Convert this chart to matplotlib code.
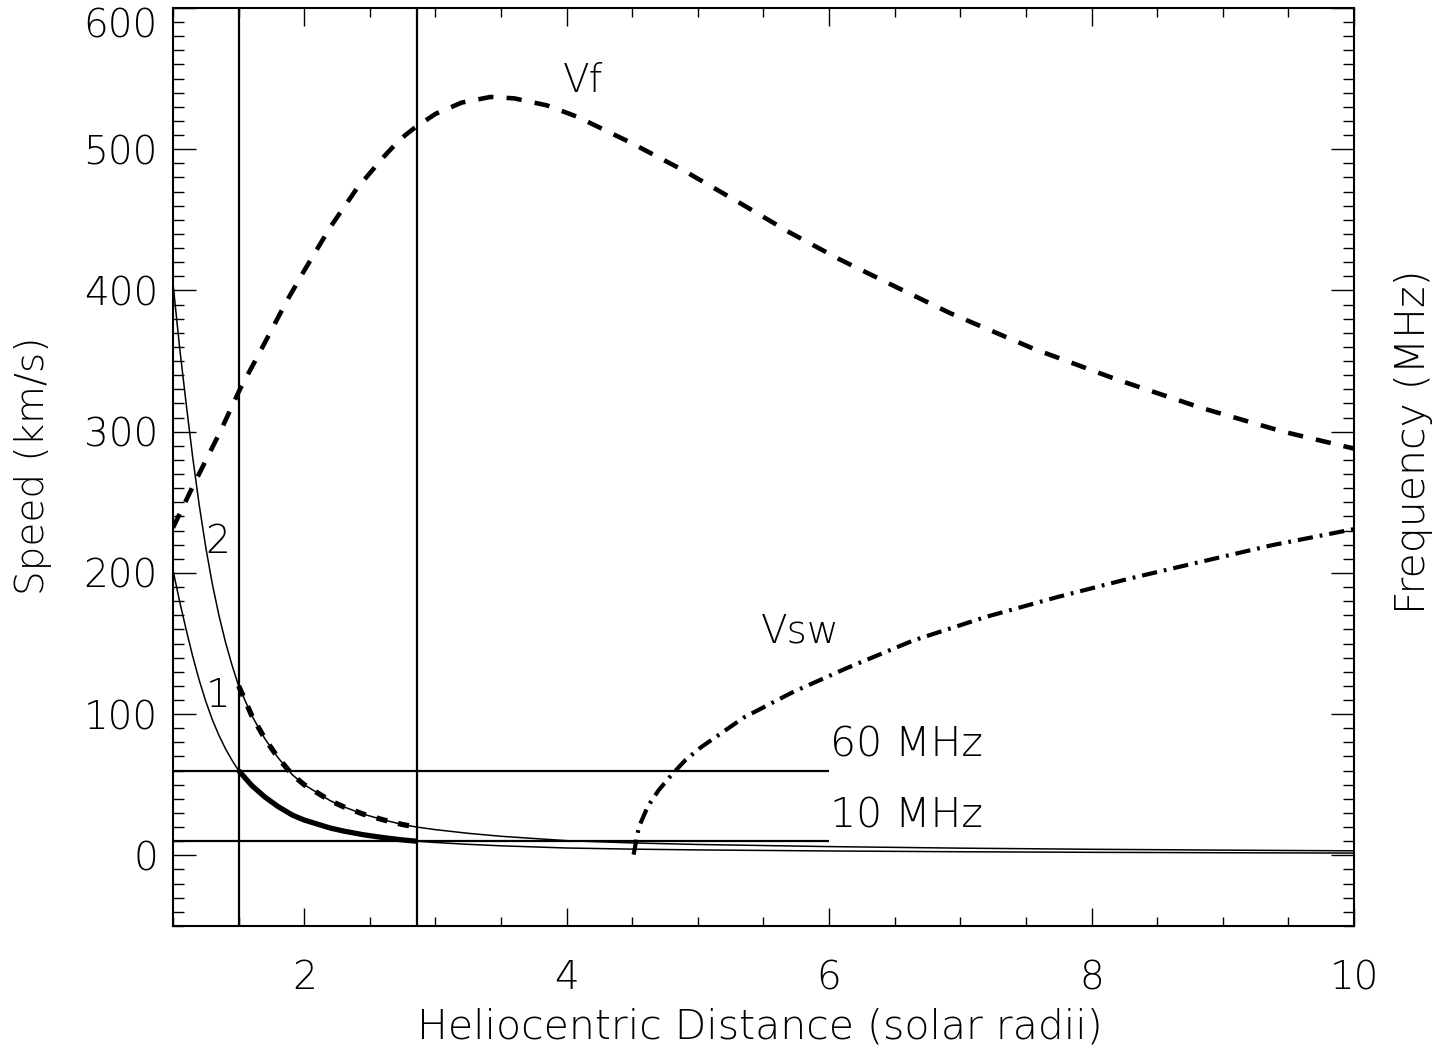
import matplotlib
matplotlib.use('Agg')
import matplotlib.pyplot as plt
import numpy as np
from matplotlib.ticker import MultipleLocator

plt.rcParams['font.family'] = ['DejaVu Sans']
plt.rcParams['font.weight'] = 'light'
plt.rcParams['lines.scale_dashes'] = False

# ---------------- data ----------------
# plasma frequency curves (fundamental "1" and harmonic "2"), MHz
r_f = np.array([1.0, 1.05, 1.1, 1.15, 1.2, 1.25, 1.3, 1.35, 1.4, 1.45, 1.5, 1.6, 1.7, 1.8,
                1.91, 2.0, 2.2, 2.3, 2.45, 2.6, 2.75, 2.86, 3.0, 3.25, 3.5, 4.0, 4.5, 5.0,
                6.0, 7.0, 8.0, 9.0, 10.0])
f1 = np.array([202, 180, 160, 141, 124, 109, 96, 85, 75.5, 67.3, 60, 49.5, 41.3, 34.6,
               28.5, 25.0, 19.3, 17.2, 14.6, 12.6, 10.9, 10.0, 9.1, 7.8, 6.75, 5.2, 4.4, 3.85,
               3.1, 2.55, 2.15, 1.85, 1.6])
f2 = np.array([405, 360, 320, 282, 248, 218, 192, 170, 151, 134.6, 120, 99, 82.6, 69.2,
               57, 50, 38.6, 34.4, 29.2, 25.2, 21.8, 20.0, 18.2, 15.6, 13.5, 10.4, 8.8, 7.7,
               6.2, 5.1, 4.3, 3.7, 3.2])

# fast-mode speed Vf, km/s
r_vf = np.array([1.0, 1.15, 1.36, 1.51, 1.66, 1.87, 2.0, 2.2, 2.4, 2.6, 2.73, 2.84, 3.0, 3.2,
                 3.42, 3.6, 3.85, 4.08, 4.48, 4.89, 5.30, 5.70, 6.08, 6.52, 6.92, 7.55,
                 8.19, 8.83, 9.46, 10.0])
vf = np.array([232, 261, 300, 330, 356, 393, 414, 445, 472, 494, 507, 515, 525, 533,
               537, 536, 531, 523, 505, 485, 463, 441, 422, 402, 384, 359,
               337, 317, 300, 288])

# solar wind speed Vsw, km/s
r_sw = np.array([4.51, 4.55, 4.62, 4.70, 4.80, 4.90, 5.02, 5.35, 5.72, 6.12, 6.64, 7.19, 7.74,
                 8.29, 8.83, 9.38, 10.0])
vsw = np.array([0.5, 20, 35, 46, 57, 67, 76.3, 97.6, 115.4, 132, 152.1, 168.7, 182.9,
                196, 207.8, 219.7, 231])

# markers
r_marks = [1.5, 2.86]          # vertical lines
f_marks = [60, 10]             # horizontal lines (MHz)
f_mark_labels = ['60 MHz', '10 MHz']
h_xmax = 6.0
y_ticks = [0, 100, 200, 300, 400, 500, 600]
x_ticks = [2, 4, 6, 8, 10]

# ---------------- figure ----------------
fig = plt.figure(figsize=(14.5, 10.47), dpi=100)
ax = fig.add_axes([0.1193, 0.1156, 0.8145, 0.8768])
ax.set_xlim(1, 10)
ax.set_ylim(-50, 600)

k = 'black'
ax.plot(r_f, f1, color=k, lw=1.1)
ax.plot(r_f, f2, color=k, lw=1.1)
m = (r_f >= r_marks[0]) & (r_f <= r_marks[1])
ax.plot(r_f[m], f1[m], color=k, lw=3.8, solid_capstyle='butt')
ax.plot(r_f[m], f2[m], color=k, lw=3.8, dashes=(8, 8), dash_capstyle='butt')

ax.plot(r_vf, vf, color=k, lw=3.3, dashes=(11, 9.5), dash_capstyle='butt')
ax.plot(r_sw, vsw, color=k, lw=3.0, dashes=(11, 5, 2, 5), dash_capstyle='butt')

for x in r_marks:
    ax.axvline(x, color=k, lw=1.6)
ax.hlines(f_marks, 1, h_xmax, color=k, lw=1.6)

fs = 28
fs_big = 29.5
ax.text(4.125, 540.5, 'Vf', ha='center', va='baseline', fontsize=fs)
ax.text(1.343, 214, '2', ha='center', va='baseline', fontsize=fs)
ax.text(1.343, 105, '1', ha='center', va='baseline', fontsize=fs)
ax.text(5.78, 150.4, 'Vsw', ha='center', va='baseline', fontsize=fs)
ax.text(6.01, 69.7, f_mark_labels[0], ha='left', va='baseline', fontsize=fs_big)
ax.text(6.01, 19.4, f_mark_labels[1], ha='left', va='baseline', fontsize=fs_big)

# ticks
ax.set_xticks(x_ticks)
ax.set_yticks(y_ticks)
ax.xaxis.set_minor_locator(MultipleLocator(0.5))
ax.yaxis.set_minor_locator(MultipleLocator(10))
ax.tick_params(which='both', direction='in', top=True, right=True, labelsize=fs, width=1.0)
ax.tick_params(axis='y', which='major', length=16.6, pad=10.8)
ax.tick_params(axis='y', which='minor', length=8)
ax.tick_params(axis='x', which='major', length=13, pad=24)
ax.tick_params(axis='x', which='minor', length=6.5)
top_tick = ax.yaxis.get_major_ticks()[-1]
top_tick.label1.set_verticalalignment('top')
for s in ax.spines.values():
    s.set_linewidth(1.5)

fig.text(0.524, 0.019, 'Heliocentric Distance (solar radii)', ha='center', va='center', fontsize=fs_big)
fig.text(0.0228, 0.555, 'Speed (km/s)', ha='center', va='center', rotation=90, fontsize=fs)
fig.text(0.9745, 0.578, 'Frequency (MHz)', ha='center', va='center', rotation=90, fontsize=fs_big)

fig.savefig('out.png', dpi=100)
